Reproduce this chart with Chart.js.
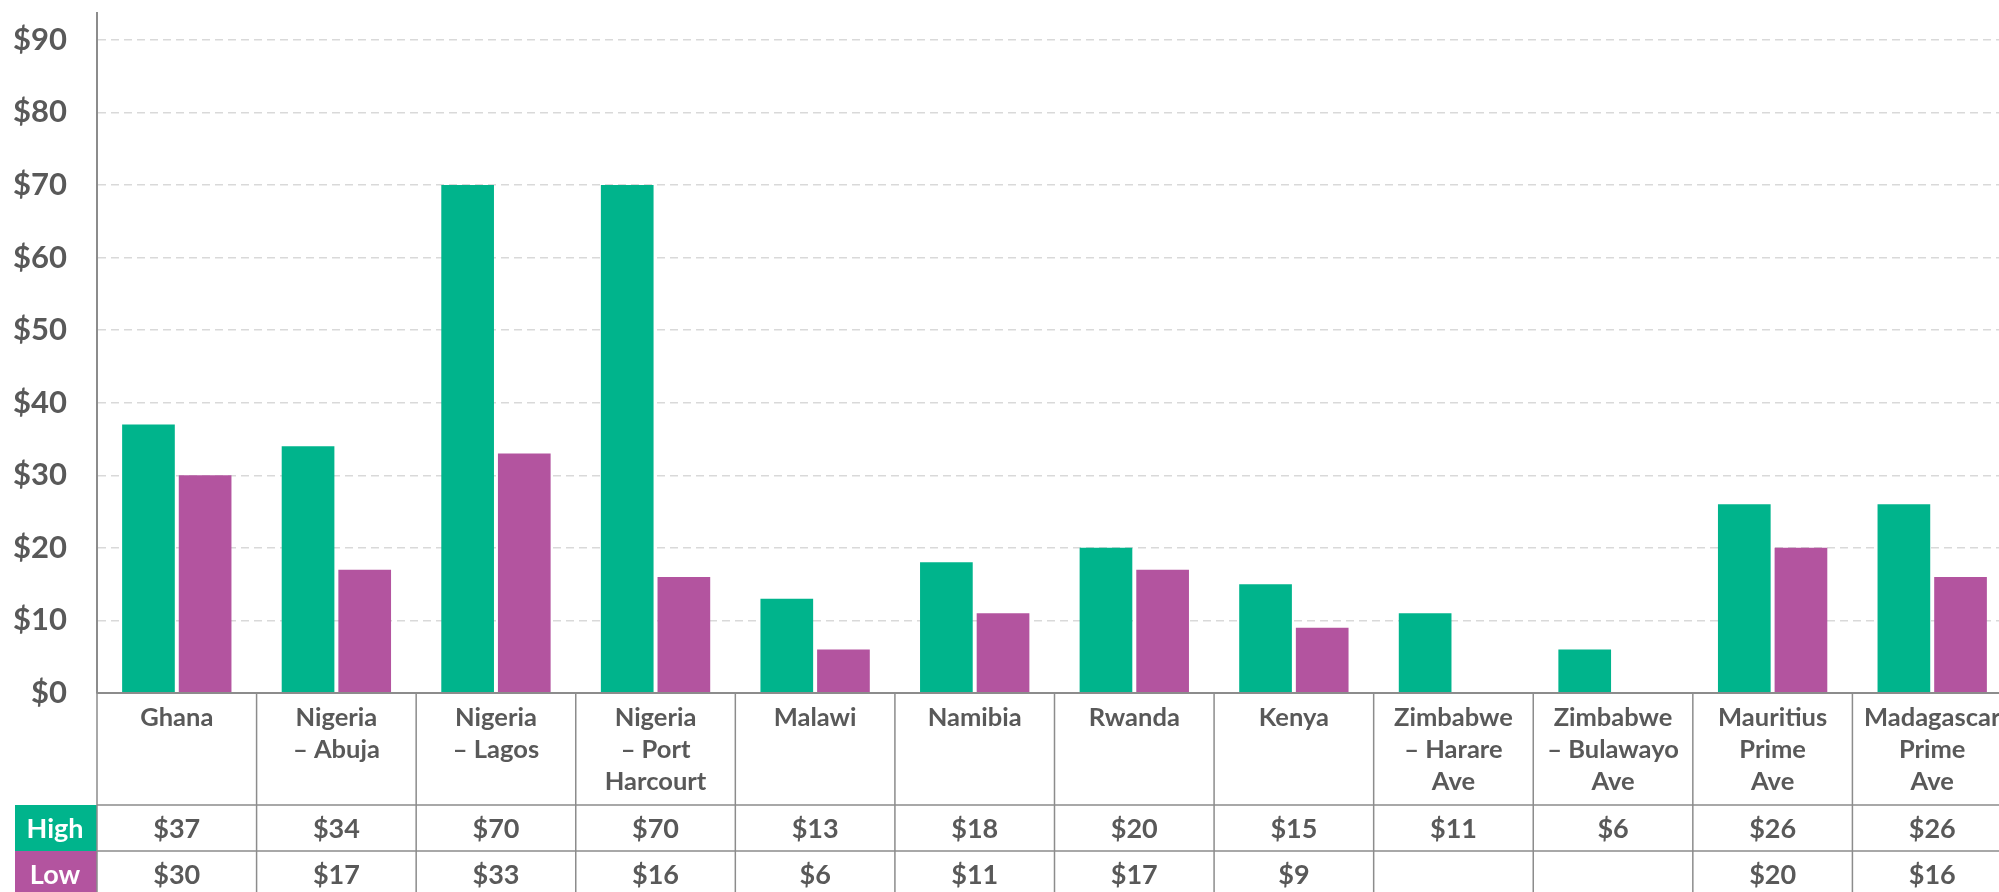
<!DOCTYPE html>
<html>
<head>
<meta charset="utf-8">
<title>Prime office rents</title>
<script src="https://cdn.jsdelivr.net/npm/chart.js@4"></script>
<style>
  html, body { margin: 0; padding: 0; overflow: hidden; background: #fff; }
  canvas { display: block; }
</style>
</head>
<body>
<canvas id="rentChart" width="2012" height="897"></canvas>
<script>
// markets, split into the lines shown in the table header
const markets = [
  ['Ghana'],
  ['Nigeria', '– Abuja'],
  ['Nigeria', '– Lagos'],
  ['Nigeria', '– Port', 'Harcourt'],
  ['Malawi'],
  ['Namibia'],
  ['Rwanda'],
  ['Kenya'],
  ['Zimbabwe', '– Harare', 'Ave'],
  ['Zimbabwe', '– Bulawayo', 'Ave'],
  ['Mauritius', 'Prime', 'Ave'],
  ['Madagascar', 'Prime', 'Ave']
];
const highRents = [37, 34, 70, 70, 13, 18, 20, 15, 11, 6, 26, 26];
const lowRents = [30, 17, 33, 16, 6, 11, 17, 9, null, null, 20, 16];
const yTicks = [0, 10, 20, 30, 40, 50, 60, 70, 80, 90];

const GREEN = '#00B48C';
const PURPLE = '#B3549F';
const TEXT = '#595959';
const LINE = '#8C8C8C';
const FONT = 'Lato, "Open Sans", sans-serif';

const labelRowH = 112;
const valueRowH = 46;
const lineH = 32;

// draws the data table under the bars
const dataTable = {
  id: 'dataTable',
  afterDatasetsDraw(chart) {
    const { ctx, chartArea, scales: { x } } = chart;
    const top = chartArea.bottom;
    const highTop = top + labelRowH;
    const lowTop = highTop + valueRowH;
    const bottom = lowTop + valueRowH;
    const left = chartArea.left;
    const right = chart.width;
    const catW = (chartArea.right - chartArea.left) / markets.length;

    ctx.save();

    // series keys on the left
    ctx.fillStyle = GREEN;
    ctx.fillRect(15, highTop, left - 15, valueRowH);
    ctx.fillStyle = PURPLE;
    ctx.fillRect(15, lowTop, left - 15, valueRowH);
    ctx.font = 'bold 27px ' + FONT;
    ctx.textAlign = 'center';
    ctx.textBaseline = 'middle';
    ctx.fillStyle = '#ffffff';
    ctx.fillText('High', (15 + left) / 2 - 1, highTop + valueRowH / 2 + 1);
    ctx.fillText('Low', (15 + left) / 2 - 1, lowTop + valueRowH / 2 + 1);

    // grid of the table
    ctx.strokeStyle = LINE;
    ctx.lineWidth = 1.5;
    ctx.beginPath();
    [highTop, lowTop, bottom].forEach(y => {
      ctx.moveTo(left, y);
      ctx.lineTo(right, y);
    });
    for (let i = 0; i <= markets.length; i++) {
      const bx = i === 0 ? left : x.getPixelForValue(i) - catW / 2;
      ctx.moveTo(bx, top);
      ctx.lineTo(bx, bottom);
    }
    ctx.stroke();

    // axis baseline
    ctx.lineWidth = 2;
    ctx.beginPath();
    ctx.moveTo(left, top);
    ctx.lineTo(right, top);
    ctx.stroke();

    // header and values
    ctx.fillStyle = TEXT;
    markets.forEach((lines, i) => {
      const cx = x.getPixelForValue(i);
      ctx.font = 'bold 25.5px ' + FONT;
      lines.forEach((txt, k) => ctx.fillText(txt, cx, top + 25 + lineH * k));
      ctx.font = 'bold 27px ' + FONT;
      if (highRents[i] != null) ctx.fillText('$' + highRents[i], cx, highTop + valueRowH / 2 + 1);
      if (lowRents[i] != null) ctx.fillText('$' + lowRents[i], cx, lowTop + valueRowH / 2 + 1);
    });

    ctx.restore();
  }
};

new Chart(document.getElementById('rentChart'), {
  type: 'bar',
  data: {
    labels: markets.map(m => m.join(' ')),
    datasets: [
      {
        label: 'High',
        data: highRents,
        backgroundColor: GREEN,
        categoryPercentage: 0.71,
        barPercentage: 0.93
      },
      {
        label: 'Low',
        data: lowRents,
        backgroundColor: PURPLE,
        categoryPercentage: 0.71,
        barPercentage: 0.93
      }
    ]
  },
  options: {
    responsive: false,
    animation: false,
    layout: { padding: { top: 13, bottom: 204, left: 0, right: 0 } },
    plugins: {
      legend: { display: false },
      tooltip: { enabled: false }
    },
    scales: {
      x: { display: false },
      y: {
        min: 0,
        max: 93.7,
        afterBuildTicks: s => { s.ticks = yTicks.map(v => ({ value: v })); },
        afterFit: s => {
          s.width = 97;
          s.paddingTop = 0;
          s.paddingBottom = 0;
        },
        ticks: {
          callback: v => '$' + v,
          color: TEXT,
          padding: 30,
          font: { family: FONT, size: 31, weight: 'bold' }
        },
        grid: { color: '#D9D9D9', lineWidth: 1.5, drawTicks: false },
        border: { color: LINE, width: 2, dash: [8, 5] }
      }
    }
  },
  plugins: [dataTable]
});
</script>
</body>
</html>
